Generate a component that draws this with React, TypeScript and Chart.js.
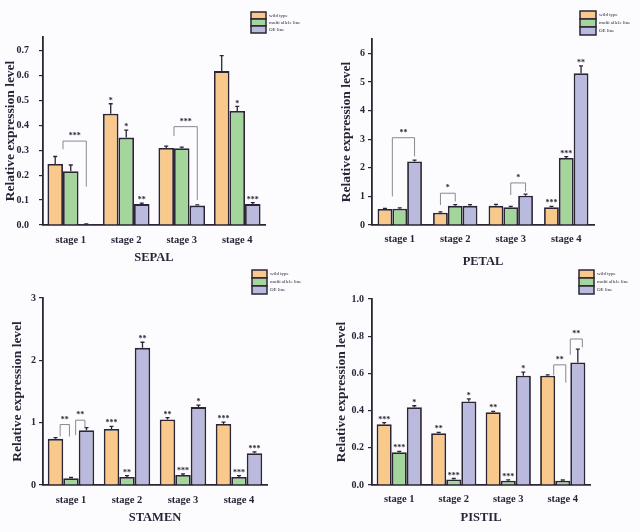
import React, { useEffect, useRef } from 'react';
import { Chart, registerables } from 'chart.js';
Chart.register(...registerables);

// ---------- shared ----------
const stages = ['stage 1', 'stage 2', 'stage 3', 'stage 4'];
const seriesNames = ['wild type', 'multi allele line', 'OE line'];
const seriesFill = ['#F8C98B', '#A4D69C', '#B9BADD'];
const edge = '#2B2536';
const ink = '#2A2438';
const serif = "'Liberation Serif', 'DejaVu Serif', serif";

// ---------- SEPAL ----------
const sepalWT = [0.245, 0.447, 0.309, 0.618];
const sepalMut = [0.216, 0.351, 0.308, 0.458];
const sepalOE = [0.003, 0.084, 0.078, 0.084];
const sepalErrWT = [0.03, 0.04, 0.008, 0.062];
const sepalErrMut = [0.025, 0.03, 0.005, 0.018];
const sepalErrOE = [0.001, 0.004, 0.003, 0.006];
const sepalStars = [['', '', ''], ['*', '*', '**'], ['', '', ''], ['', '*', '***']];
// [stage, fromBar, toBar, top, fromEnd, toEnd, label]
const sepalBrackets = [
  [0, 0.5, 2, 0.337, 0.304, 0.154, '***'],
  [2, 0.5, 2, 0.395, 0.357, 0.1, '***'],
];

// ---------- PETAL ----------
const petalWT = [0.56, 0.43, 0.67, 0.62];
const petalMut = [0.57, 0.67, 0.62, 2.34];
const petalOE = [2.22, 0.67, 1.02, 5.3];
const petalErrWT = [0.02, 0.03, 0.05, 0.03];
const petalErrMut = [0.03, 0.04, 0.03, 0.05];
const petalErrOE = [0.05, 0.04, 0.06, 0.26];
const petalStars = [['', '', ''], ['', '', ''], ['', '', ''], ['***', '***', '**']];
const petalBrackets = [
  [0, 0.5, 2, 3.05, 1.0, 2.4, '**'],
  [1, 0, 1, 1.11, 0.7, 0.82, '*'],
  [2, 1, 2, 1.47, 1.05, 1.17, '*'],
];

// ---------- STAMEN ----------
const stamenWT = [0.74, 0.9, 1.05, 0.98];
const stamenMut = [0.11, 0.13, 0.16, 0.13];
const stamenOE = [0.88, 2.2, 1.25, 0.51];
const stamenErrWT = [0.02, 0.04, 0.03, 0.03];
const stamenErrMut = [0.01, 0.02, 0.02, 0.02];
const stamenErrOE = [0.04, 0.09, 0.03, 0.02];
const stamenStars = [['', '', ''], ['***', '**', '**'], ['**', '***', '*'], ['***', '***', '***']];
const stamenBrackets = [
  [0, 0.3, 0.9, 0.97, 0.78, 0.78, '**'],
  [0, 1.3, 1.9, 1.04, 0.8, 0.92, '**'],
];

// ---------- PISTIL ----------
const pistilWT = [0.327, 0.278, 0.391, 0.587];
const pistilMut = [0.176, 0.03, 0.023, 0.023];
const pistilOE = [0.418, 0.449, 0.587, 0.659];
const pistilErrWT = [0.008, 0.005, 0.005, 0.005];
const pistilErrMut = [0.005, 0.005, 0.005, 0.004];
const pistilErrOE = [0.008, 0.014, 0.02, 0.072];
const pistilStars = [['***', '***', '*'], ['**', '***', '*'], ['**', '***', '*'], ['', '', '']];
const pistilBrackets = [
  [3, 0.4, 1.2, 0.646, 0.59, 0.55, '**'],
  [3, 1.5, 2.3, 0.785, 0.7, 0.74, '**'],
];

type PanelProps = {
  left: number; top: number; w: number; h: number;
  title: string;
  values: number[][]; errs: number[][]; stars: string[][]; brackets: any[];
  yMax: number; yStep: number; yTickMax: number; decimals: number;
  area: { left: number; right: number; top: number; bottom: number };
  yTickPad: number; yTitlePad: number; xTickPad: number; xTitlePad: number;
  legend: { x: number; y: number; bw: number; bh: number };
  cat: number;
};

function Panel(p: PanelProps) {
  const ref = useRef<HTMLCanvasElement | null>(null);
  useEffect(() => {
    if (!ref.current) return;
    const overlay = {
      id: 'overlay',
      afterDatasetsDraw(chart: any) {
        const ctx = chart.ctx;
        const ys = chart.scales.y;
        const metas = [0, 1, 2].map((i) => chart.getDatasetMeta(i));
        const barX = (cat: number, f: number) => {
          const i = Math.min(Math.floor(f), 1);
          const fr = f - i;
          const a = metas[i].data[cat].x;
          const b = metas[i + 1].data[cat].x;
          return a + fr * (b - a);
        };
        ctx.save();
        // error bars
        ctx.strokeStyle = edge;
        ctx.lineWidth = 1.3;
        for (let s = 0; s < 3; s++) {
          for (let c = 0; c < 4; c++) {
            const el = metas[s].data[c];
            const v = p.values[s][c];
            const e = p.errs[s][c];
            const y0 = ys.getPixelForValue(v);
            const y1 = ys.getPixelForValue(v + e);
            ctx.beginPath();
            ctx.moveTo(el.x, y0);
            ctx.lineTo(el.x, y1);
            ctx.moveTo(el.x - 2, y1);
            ctx.lineTo(el.x + 2, y1);
            ctx.stroke();
          }
        }
        // stars
        ctx.fillStyle = ink;
        ctx.font = `bold 8px ${serif}`;
        ctx.textAlign = 'center';
        ctx.textBaseline = 'bottom';
        for (let c = 0; c < 4; c++) {
          for (let s = 0; s < 3; s++) {
            const lab = p.stars[c][s];
            if (!lab) continue;
            const el = metas[s].data[c];
            const y1 = ys.getPixelForValue(p.values[s][c] + p.errs[s][c]);
            ctx.fillText(lab, el.x, y1 + 1);
          }
        }
        // brackets
        for (const b of p.brackets) {
          const [cat, fa, fb, topV, ea, eb, lab] = b;
          const xa = barX(cat, fa);
          const xb = barX(cat, fb);
          const yt = ys.getPixelForValue(topV);
          ctx.strokeStyle = '#8A8790';
          ctx.lineWidth = 1;
          ctx.beginPath();
          ctx.moveTo(xa, ys.getPixelForValue(ea));
          ctx.lineTo(xa, yt);
          ctx.lineTo(xb, yt);
          ctx.lineTo(xb, ys.getPixelForValue(eb));
          ctx.stroke();
          ctx.fillText(lab, (xa + xb) / 2, yt - 1);
        }
        // legend
        const L = p.legend;
        ctx.font = `5px ${serif}`;
        ctx.textAlign = 'left';
        ctx.textBaseline = 'middle';
        for (let s = 0; s < 3; s++) {
          const yy = L.y + s * L.bh;
          ctx.fillStyle = seriesFill[s];
          ctx.fillRect(L.x, yy, L.bw, L.bh);
          ctx.strokeStyle = edge;
          ctx.lineWidth = 1.5;
          ctx.strokeRect(L.x, yy, L.bw, L.bh);
          ctx.fillStyle = ink;
          ctx.fillText(seriesNames[s], L.x + L.bw + 3, yy + L.bh / 2);
        }
        ctx.restore();
      },
    };
    const chart = new Chart(ref.current, {
      type: 'bar',
      data: {
        labels: stages,
        datasets: [0, 1, 2].map((s) => ({
          label: seriesNames[s],
          data: p.values[s],
          backgroundColor: seriesFill[s],
          borderColor: edge,
          borderWidth: 1.8,
          barPercentage: 1,
          categoryPercentage: p.cat,
        })),
      },
      options: {
        responsive: false,
        animation: false,
        events: [],
        layout: { padding: { left: 0, right: p.w - p.area.right, top: p.area.top, bottom: 0 } },
        plugins: { legend: { display: false }, tooltip: { enabled: false } },
        scales: {
          x: {
            grid: { display: false, drawTicks: false },
            border: { display: true, color: edge, width: 1.8 },
            ticks: {
              color: ink, padding: p.xTickPad, maxRotation: 0,
              font: { family: serif, size: 10.5, weight: 'bold' },
            },
            title: {
              display: true, text: p.title, color: ink,
              font: { family: serif, size: 12.5, weight: 'bold', lineHeight: 1 },
              padding: { top: 0, bottom: p.xTitlePad },
            },
            afterFit: (s: any) => { s.height = p.h - p.area.bottom; },
          },
          y: {
            min: 0, max: p.yMax,
            afterBuildTicks: (s: any) => {
              s.ticks = s.ticks.filter((t: any) => t.value <= p.yTickMax + 1e-6);
            },
            grid: { display: true, drawOnChartArea: false, drawTicks: true, tickLength: 4, color: edge, lineWidth: 1.2 },
            border: { display: true, color: edge, width: 1.8 },
            ticks: {
              stepSize: p.yStep, padding: p.yTickPad, color: ink,
              font: { family: serif, size: 10, weight: 'bold' },
              callback: (v: any) => Number(v).toFixed(p.decimals),
            },
            title: {
              display: true, text: 'Relative expression level', color: ink,
              font: { family: serif, size: 13.5, weight: 'bold', lineHeight: 1.2 },
              padding: { top: p.yTitlePad, bottom: 0 },
            },
            afterFit: (s: any) => { s.width = p.area.left; },
          },
        },
      },
      plugins: [overlay],
    } as any);
    return () => chart.destroy();
  }, []);
  return (
    <canvas
      ref={ref}
      width={p.w}
      height={p.h}
      style={{ position: 'absolute', left: p.left, top: p.top, width: p.w, height: p.h }}
    />
  );
}

export default function App() {
  return (
    <div style={{ position: 'fixed', left: 0, top: 0, width: 640, height: 532, background: '#FCFCFE', overflow: 'hidden' }}>
      <Panel
        left={0} top={0} w={320} h={272} title="SEPAL"
        values={[sepalWT, sepalMut, sepalOE]} errs={[sepalErrWT, sepalErrMut, sepalErrOE]}
        stars={sepalStars} brackets={sepalBrackets}
        yMax={0.755} yStep={0.1} yTickMax={0.7} decimals={1}
        area={{ left: 43, right: 265, top: 37, bottom: 225 }}
        yTickPad={10} yTitlePad={2} xTickPad={9} xTitlePad={8}
        legend={{ x: 251, y: 12, bw: 15, bh: 7 }} cat={0.84}
      />
      <Panel
        left={320} top={0} w={320} h={272} title="PETAL"
        values={[petalWT, petalMut, petalOE]} errs={[petalErrWT, petalErrMut, petalErrOE]}
        stars={petalStars} brackets={petalBrackets}
        yMax={6.5} yStep={1} yTickMax={6} decimals={0}
        area={{ left: 52, right: 274, top: 39, bottom: 225 }}
        yTickPad={3} yTitlePad={18} xTickPad={8} xTitlePad={4}
        legend={{ x: 260, y: 11, bw: 16, bh: 8 }} cat={0.8}
      />
      <Panel
        left={0} top={266} w={320} h={266} title="STAMEN"
        values={[stamenWT, stamenMut, stamenOE]} errs={[stamenErrWT, stamenErrMut, stamenErrOE]}
        stars={stamenStars} brackets={stamenBrackets}
        yMax={3} yStep={1} yTickMax={3} decimals={0}
        area={{ left: 43, right: 267, top: 32, bottom: 219 }}
        yTickPad={3} yTitlePad={9} xTickPad={9} xTitlePad={8}
        legend={{ x: 252, y: 4, bw: 15, bh: 8 }} cat={0.83}
      />
      <Panel
        left={320} top={266} w={320} h={266} title="PISTIL"
        values={[pistilWT, pistilMut, pistilOE]} errs={[pistilErrWT, pistilErrMut, pistilErrOE]}
        stars={pistilStars} brackets={pistilBrackets}
        yMax={1.0} yStep={0.2} yTickMax={1.0} decimals={1}
        area={{ left: 52, right: 270, top: 33, bottom: 219 }}
        yTickPad={4} yTitlePad={13} xTickPad={8} xTitlePad={8}
        legend={{ x: 259, y: 4, bw: 15, bh: 8 }} cat={0.83}
      />
    </div>
  );
}
